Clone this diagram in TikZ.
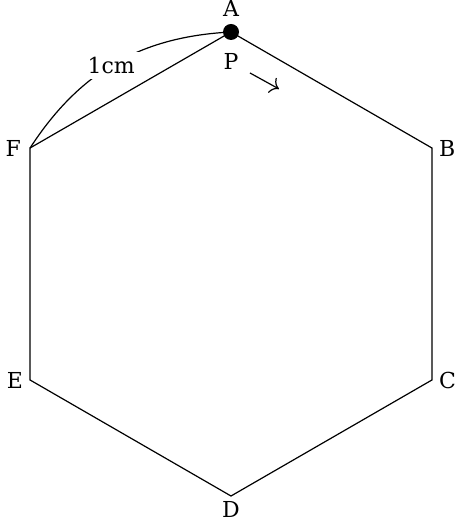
\documentclass[tikz,border=0pt]{standalone}
\usepackage{fontspec}
\setmainfont{DejaVu Serif}
\usetikzlibrary{positioning}
\usetikzlibrary{arrows.meta}

\begin{document}
\begin{tikzpicture}[line width=0.6pt, every node/.style={font=\fontsize{11}{13}\selectfont}]
    \useasboundingbox (-115.5pt,-129pt) rectangle (115.5pt,132pt);
    \foreach \name/\ang in {A/90,B/30,C/-30,D/-90,E/-150,F/150}
        \coordinate (\name) at (\ang:116pt);
    \draw (A) -- (B) -- (C) -- (D) -- (E) -- (F) -- cycle;
    \draw (F) to[bend left=27] node[fill=white, inner sep=2.5pt, pos=0.48] (len) {1cm} (A);
    \node[circle, fill, inner sep=0pt, minimum size=8pt] (dot) at (A) {};

    \node[above=0pt of dot] (labA) {A};
    \node[right=0pt of B] (labB) {B};
    \node[right=0pt of C] (labC) {C};
    \node[below=0pt of D, inner sep=2.5pt] (labD) {D};
    \node[left=0pt of E] (labE) {E};
    \node[left=1pt of F] (labF) {F};

    \node[below=3pt of dot] (labP) {P};
    \coordinate (move start) at (9.5pt,95.5pt);
    \coordinate (move end) at (24pt,87.5pt);
    \draw[-{To[scale=1.4]}] (move start) -- (move end);
\end{tikzpicture}
\end{document}
